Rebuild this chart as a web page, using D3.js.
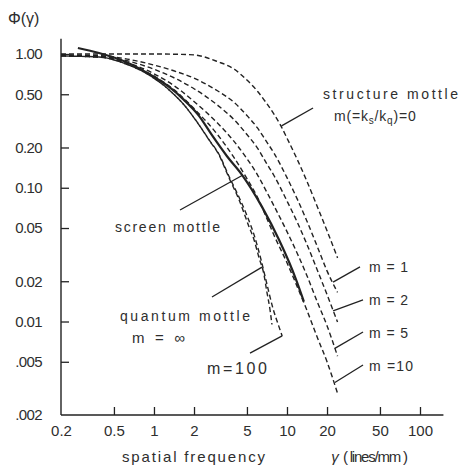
<!DOCTYPE html>
<html>
<head>
<meta charset="utf-8">
<script src="https://cdn.jsdelivr.net/npm/d3@7"></script>
<style>
body { margin: 0; background: #fff; }
text { font-family: "Liberation Sans", Arial, sans-serif; fill: #2e2e2e; }
</style>
</head>
<body>
<div id="chart"></div>
<script>
// values: spatial frequency (lines/mm) -> Phi
var structF   = [0.2, 0.6, 1, 1.5, 2, 3, 4, 5, 6, 7, 8, 9, 10, 12, 14, 17, 20, 24];
var structPhi = [1.0, 1.0, 1.0, 0.995, 0.985, 0.878, 0.772, 0.638, 0.527, 0.43, 0.354, 0.29, 0.235, 0.161, 0.114, 0.0713, 0.0477, 0.0299];

var mF     = [0.2, 0.4, 0.6, 1, 1.5, 2, 3, 4, 5, 6, 7, 8, 10, 12, 14, 17, 20, 24];
var m1Phi  = [0.983, 0.971, 0.924, 0.827, 0.734, 0.660, 0.531, 0.435, 0.347, 0.280, 0.222, 0.181, 0.119, 0.0815, 0.0575, 0.0358, 0.0239, 0.0165];
var m2Phi  = [0.977, 0.961, 0.899, 0.769, 0.645, 0.550, 0.415, 0.323, 0.250, 0.198, 0.153, 0.123, 0.0797, 0.0547, 0.0385, 0.0239, 0.0159, 0.0099];
var m5Phi  = [0.972, 0.951, 0.873, 0.712, 0.556, 0.441, 0.305, 0.222, 0.165, 0.125, 0.094, 0.073, 0.047, 0.032, 0.0225, 0.0138, 0.0093, 0.0055];
var m10Phi = [0.969, 0.946, 0.862, 0.685, 0.515, 0.391, 0.250, 0.168, 0.117, 0.085, 0.060, 0.044, 0.0275, 0.0180, 0.0124, 0.0075, 0.0050, 0.0029];

var screenF   = [0.268, 0.386, 0.616, 0.917, 1.30, 1.68, 2.18, 2.73, 3.54, 4.59, 6.49, 8.71, 10.4, 11.7, 13.4];
var screenPhi = [1.108, 1.017, 0.871, 0.709, 0.567, 0.454, 0.345, 0.247, 0.172, 0.125, 0.072, 0.0409, 0.0276, 0.0206, 0.0141];

var quantF   = [0.2, 0.386, 0.616, 0.917, 1.30, 1.68, 2.18, 2.59, 3.08, 3.66, 4.36, 5.18, 5.65, 6.16, 6.71, 7.07, 7.45, 7.71];
var quantPhi = [0.966, 0.95, 0.842, 0.697, 0.539, 0.417, 0.295, 0.228, 0.176, 0.119, 0.0813, 0.0512, 0.0409, 0.030, 0.0225, 0.0165, 0.0123, 0.0095];

var m100F   = [0.2, 0.386, 0.616, 0.917, 1.30, 1.68, 2.18, 2.59, 3.08, 3.66, 4.36, 5.0, 5.65, 6.38, 7.07, 7.85, 8.5, 9.2];
var m100Phi = [0.966, 0.95, 0.842, 0.697, 0.539, 0.417, 0.296, 0.229, 0.178, 0.122, 0.085, 0.062, 0.0446, 0.029, 0.019, 0.0125, 0.0098, 0.0078];

var xTicks = [0.2, 0.5, 1, 2, 5, 10, 20, 50, 100];
var xTickLabels = ["0.2", "0.5", "1", "2", "5", "10", "20", "50", "100"];
var yTicks = [1, 0.5, 0.2, 0.1, 0.05, 0.02, 0.01, 0.005, 0.002];
var yTickLabels = ["1.00", "0.50", "0.20", "0.10", "0.05", "0.02", "0.01", ".005", ".002"];

var width = 460, height = 471;

var svg = d3.select("#chart").append("svg")
    .attr("width", width)
    .attr("height", height);

svg.append("rect").attr("width", width).attr("height", height).attr("fill", "#fff");

// log-log scales
var x = d3.scaleLog().domain([0.2, 100]).range([61, 420]);
var y = d3.scaleLog().domain([1, 0.002]).range([54, 415]);

// axis lines (run a little past the last tick like the original)
svg.append("line")
    .attr("x1", x(0.2)).attr("x2", x(0.2))
    .attr("y1", y(1.3)).attr("y2", y(0.002))
    .attr("stroke", "#222").attr("stroke-width", 1.4);
svg.append("line")
    .attr("x1", x(0.2)).attr("x2", x(150))
    .attr("y1", y(0.002)).attr("y2", y(0.002))
    .attr("stroke", "#222").attr("stroke-width", 1.4);

var yAxis = d3.axisLeft(y)
    .tickValues(yTicks)
    .tickFormat(function(d, i) { return yTickLabels[i]; })
    .tickSizeInner(-8).tickSizeOuter(0).tickPadding(19);

var gy = svg.append("g").attr("transform", "translate(" + x(0.2) + ",0)").call(yAxis);
gy.select(".domain").remove();
gy.selectAll(".tick line").attr("stroke", "#222").attr("stroke-width", 1.3)
    .filter(function(d) { return d === 0.002; }).remove();
gy.selectAll(".tick text")
    .style("font-family", "Liberation Sans, Arial, sans-serif")
    .style("font-size", "15px").style("letter-spacing", "-0.6px")
    .attr("fill", "#2e2e2e");

var xAxis = d3.axisBottom(x)
    .tickValues(xTicks)
    .tickFormat(function(d, i) { return xTickLabels[i]; })
    .tickSizeInner(-8).tickSizeOuter(0).tickPadding(10);

var gx = svg.append("g").attr("transform", "translate(0," + y(0.002) + ")").call(xAxis);
gx.select(".domain").remove();
gx.selectAll(".tick line").attr("stroke", "#222").attr("stroke-width", 1.3)
    .filter(function(d) { return d === 0.2; }).remove();
gx.selectAll(".tick text")
    .style("font-family", "Liberation Sans, Arial, sans-serif")
    .style("font-size", "15px")
    .attr("fill", "#2e2e2e");

// curves
var line = d3.line()
    .x(function(d) { return x(d[0]); })
    .y(function(d) { return y(d[1]); })
    .curve(d3.curveMonotoneX);

function pairs(fs, vs) { return fs.map(function(f, i) { return [f, vs[i]]; }); }

var series = [
    { pts: pairs(structF, structPhi), dashed: true },
    { pts: pairs(mF, m1Phi), dashed: true },
    { pts: pairs(mF, m2Phi), dashed: true },
    { pts: pairs(mF, m5Phi), dashed: true },
    { pts: pairs(mF, m10Phi), dashed: true },
    { pts: pairs(quantF, quantPhi), dashed: true },
    { pts: pairs(m100F, m100Phi), dashed: true, offset: 4 },
    { pts: pairs(screenF, screenPhi), dashed: false }
];

svg.selectAll("path.curve")
    .data(series)
    .enter()
    .append("path")
    .attr("class", "curve")
    .attr("d", function(d) { return line(d.pts); })
    .attr("fill", "none")
    .attr("stroke", "#222")
    .attr("stroke-width", function(d) { return d.dashed ? 1.4 : 2.2; })
    .attr("stroke-dasharray", function(d) { return d.dashed ? "5,3" : null; })
    .attr("stroke-dashoffset", function(d) { return d.offset || 0; });

// leader lines, in data units: [f1, phi1, f2, phi2]
var leaders = [
    [9.1, 0.29, 15.7, 0.395],
    [1.57, 0.0682, 4.67, 0.1245],
    [2.73, 0.01524, 6.49, 0.0255],
    [5.27, 0.00581, 9.2, 0.0078],
    [22.2, 0.0197, 35.4, 0.0256],
    [22.2, 0.0120, 37.3, 0.0145],
    [22.9, 0.0063, 37.3, 0.00834],
    [22.9, 0.0035, 37.3, 0.00473]
];

svg.selectAll("line.leader")
    .data(leaders)
    .enter()
    .append("line")
    .attr("class", "leader")
    .attr("x1", function(d) { return x(d[0]); })
    .attr("y1", function(d) { return y(d[1]); })
    .attr("x2", function(d) { return x(d[2]); })
    .attr("y2", function(d) { return y(d[3]); })
    .attr("stroke", "#222")
    .attr("stroke-width", 1.3);

// annotations: text, f, phi (baseline start), width, font size
var notes = [
    ["structure  mottle", 18.66, 0.461, 135, 14],
    ["screen  mottle", 0.509, 0.0467, 105, 14],
    ["quantum   mottle", 0.555, 0.01009, 130, 14],
    ["m =  \u221e", 0.683, 0.00691, 53, 15],
    ["m=100", 2.50, 0.00405, 60, 16],
    ["m =  1", 41.4, 0.02345, 39, 14],
    ["m =  2", 41.4, 0.01328, 39, 14],
    ["m =  5", 41.4, 0.00753, 39, 14],
    ["m =10", 41.4, 0.00427, 44, 14]
];

svg.selectAll("text.note")
    .data(notes)
    .enter()
    .append("text")
    .attr("class", "note")
    .attr("x", function(d) { return x(d[1]); })
    .attr("y", function(d) { return y(d[2]); })
    .attr("textLength", function(d) { return d[3]; })
    .attr("lengthAdjust", "spacing")
    .style("font-size", function(d) { return d[4] + "px"; })
    .text(function(d) { return d[0]; });

// m(=ks/kq)=0 with subscripts
var mt = svg.append("text")
    .attr("x", x(22.6)).attr("y", y(0.3155))
    .style("font-size", "14px").style("letter-spacing", "0.8px");
mt.append("tspan").text("m(=k");
mt.append("tspan").attr("dy", 3).style("font-size", "10px").text("s");
mt.append("tspan").attr("dy", -3).text("/k");
mt.append("tspan").attr("dy", 3).style("font-size", "10px").text("q");
mt.append("tspan").attr("dy", -3).text(")=0");

// axis titles
svg.append("text").attr("x", 8).attr("y", 24)
    .style("font-size", "16px").text("\u03a6(\u03b3)");

svg.append("text").attr("x", 122).attr("y", 462)
    .attr("textLength", 143).attr("lengthAdjust", "spacing")
    .style("font-size", "15px").text("spatial frequency");
svg.append("text").attr("x", 335).attr("y", 462)
    .attr("text-anchor", "middle")
    .style("font-size", "15px").style("font-style", "italic").text("\u03b3");
svg.append("text").attr("x", 343).attr("y", 462)
    .attr("textLength", 65).attr("lengthAdjust", "spacing")
    .style("font-size", "15px").text("( lines/mm )");
</script>
</body>
</html>
